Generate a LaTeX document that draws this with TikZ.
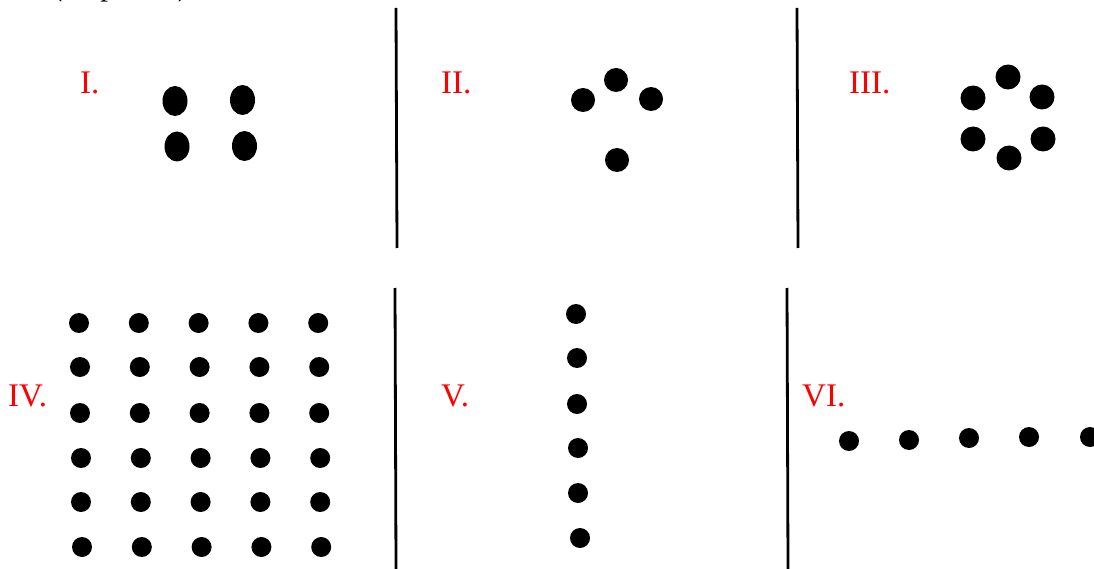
\documentclass[tikz,border=0pt]{standalone}
\usepackage{fontspec}
\setmainfont{Liberation Serif}
\usetikzlibrary{shapes.geometric}
\begin{document}
\begin{tikzpicture}[x={(1pt,0)},y={(0,-1pt)},
  lbl/.style={text=red,font=\fontsize{33}{33}\selectfont,inner sep=0pt,anchor=base west},
  sep/.style={line width=2.8pt,black},
  bigdot/.style={fill=black,draw=none,circle,inner sep=0pt,minimum size=24pt},
  smalldot/.style={fill=black,draw=none,circle,inner sep=0pt,minimum size=20pt},
  ovaldot/.style={fill=black,draw=none,ellipse,inner sep=0pt,minimum width=25pt,minimum height=30pt}]
\useasboundingbox (0,0) rectangle (1094,569);
\clip (0,0) rectangle (1094,569);
% cut-off caption at top
\node[font=\fontsize{31}{31}\selectfont,inner sep=0pt,anchor=base west] (cap) at (52,-4) {(\hspace{38pt}p\hspace{62pt})};
% separators
\coordinate (s1a) at (396,8); \coordinate (s1b) at (397,248);
\coordinate (s2a) at (797,8); \coordinate (s2b) at (798,248);
\coordinate (s3a) at (395,288); \coordinate (s3b) at (396,569);
\coordinate (s4a) at (787,288); \coordinate (s4b) at (788,569);
\draw[sep] (s1a) -- (s1b);
\draw[sep] (s2a) -- (s2b);
\draw[sep] (s3a) -- (s3b);
\draw[sep] (s4a) -- (s4b);
% labels
\node[lbl] (l1) at (80,94) {I.};
\node[lbl] (l2) at (441,94) {II.};
\node[lbl] (l3) at (849,94) {III.};
\node[lbl] (l4) at (8,406) {IV.};
\node[lbl] (l5) at (441,406) {V.};
\node[lbl] (l6) at (802,406) {VI.};
% panel I
\node[ovaldot] (a1) at (175,101) {};
\node[ovaldot] (a2) at (242.5,100) {};
\node[ovaldot] (a3) at (177,146.5) {};
\node[ovaldot] (a4) at (244.5,146) {};
% panel II
\node[bigdot] (b1) at (583,100) {};
\node[bigdot] (b2) at (616,80) {};
\node[bigdot] (b3) at (651,99) {};
\node[bigdot] (b4) at (617,160) {};
% panel III
\node[bigdot,minimum size=25pt] (c1) at (973,98) {};
\node[bigdot,minimum size=25pt] (c2) at (1008,77) {};
\node[bigdot,minimum size=25pt] (c3) at (1042,97) {};
\node[bigdot,minimum size=25pt] (c4) at (973,139) {};
\node[bigdot,minimum size=25pt] (c5) at (1009,158) {};
\node[bigdot,minimum size=25pt] (c6) at (1043,139) {};
% panel IV grid
\foreach \r/\y/\xa in {1/323/79,2/367/80,3/413/80,4/458/81,5/502/81,6/547/82}{
  \foreach \c in {0,...,4}{
    \node[smalldot] (d\r\c) at ({\xa+59.8*\c},\y) {};
  }
}
% panel V
\foreach \i/\x/\y in {1/576/314,2/577/358,3/577/404,4/578/448,5/578/493,6/580/538}{
  \node[smalldot] (e\i) at (\x,\y) {};
}
% panel VI
\foreach \i/\x/\y in {1/849/441,2/909/440,3/969/438,4/1029/437,5/1090/437}{
  \node[smalldot] (f\i) at (\x,\y) {};
}
\end{tikzpicture}
\end{document}
